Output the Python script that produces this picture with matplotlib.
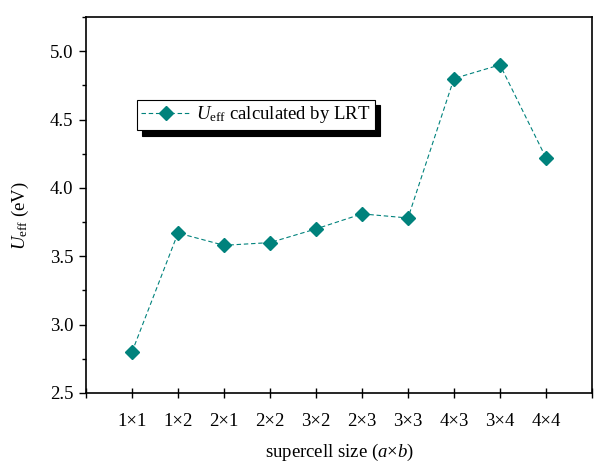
import numpy as np
import matplotlib
matplotlib.use("Agg")
import matplotlib.pyplot as plt
from matplotlib.ticker import MultipleLocator, FixedLocator

# ── Data ──────────────────────────────────────────────────────
supercells = ["1×1", "1×2", "2×1", "2×2", "3×2", "2×3", "3×3", "4×3", "3×4", "4×4"]
u_eff = [2.80, 3.67, 3.58, 3.60, 3.70, 3.81, 3.78, 4.80, 4.90, 4.22]

# ── Style ─────────────────────────────────────────────────────
plt.rcParams["font.family"] = ["Liberation Serif", "DejaVu Serif"]
plt.rcParams["mathtext.fontset"] = "custom"
plt.rcParams["mathtext.rm"] = "Liberation Serif"
plt.rcParams["mathtext.it"] = "Liberation Serif:italic"
plt.rcParams["font.size"] = 13.5

teal = "#00827c"

fig = plt.figure(figsize=(5.94, 4.76), dpi=100)
ax = fig.add_axes([0.1448, 0.1744, 0.8518, 0.7899])

x = np.arange(1, len(supercells) + 1)
ax.plot(x, u_eff, color=teal, linestyle=(0, (4, 2.5)), linewidth=0.8,
        marker="D", markersize=7, markerfacecolor=teal, markeredgecolor=teal,
        label=r"$U_{\rm eff}$ calculated by LRT")

# ── Axes ──────────────────────────────────────────────────────
ax.set_xlim(0, len(supercells) + 1)
ax.set_ylim(2.5, 5.25)
ax.set_xticks(x)
ax.set_xticklabels(supercells)
ax.xaxis.set_minor_locator(FixedLocator([0, len(supercells) + 1]))
ax.yaxis.set_major_locator(MultipleLocator(0.5))
ax.yaxis.set_minor_locator(MultipleLocator(0.25))
ax.tick_params(axis="x", which="both", direction="inout", length=7, width=1.0, pad=11)
ax.tick_params(axis="y", which="major", direction="out", length=5, width=1.0, pad=4)
ax.tick_params(axis="y", which="minor", direction="out", length=3, width=1.0)
for sp in ax.spines.values():
    sp.set_linewidth(1.2)

ax.set_ylabel(r"$U_{\rm eff}$ (eV)")
ax.yaxis.set_label_coords(-0.109, 0.473)
ax.set_xlabel(r"supercell size ($a$×$b$)")
ax.xaxis.set_label_coords(0.502, -0.13)

leg = ax.legend(loc="upper left", bbox_to_anchor=(0.1, 0.78), borderaxespad=0,
                fancybox=False, edgecolor="black", framealpha=1,
                handlelength=2.6, handletextpad=0.3, borderpad=0.25,
                shadow={"color": "black", "alpha": 1, "ox": 4, "oy": -4})
leg.get_frame().set_linewidth(0.8)

fig.savefig("out.png", dpi=100)
